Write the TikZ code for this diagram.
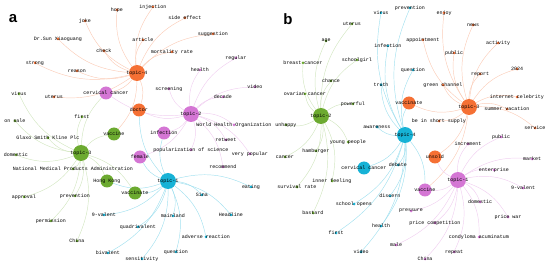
\documentclass[tikz,border=0pt]{standalone}
\usepackage{fontspec}
\setmonofont{Liberation Mono}
\newfontfamily\panelfont{Liberation Sans}
\usetikzlibrary{backgrounds}
\definecolor{cO}{RGB}{245,112,52}
\definecolor{cP}{RGB}{212,118,212}
\definecolor{cG}{RGB}{108,170,48}
\definecolor{cC}{RGB}{22,178,214}
\tikzset{
 kw/.style={circle,fill=#1,inner sep=0pt,minimum size=3pt},
 big/.style={circle,fill=#1,inner sep=0pt,minimum size=13pt},
 topic/.style={circle,fill=#1,inner sep=0pt,minimum size=16pt},
 lbl/.style={font=\ttfamily\fontsize{5}{5}\selectfont,text=black,inner sep=0pt},
 edgeO/.style={line width=0.45pt,draw=cO!35},
 edgeP/.style={line width=0.45pt,draw=cP!35},
 edgeG/.style={line width=0.45pt,draw=cG!30},
 edgeC/.style={line width=0.45pt,draw=cC!40},
 arc/.style={bend left=20},
 panel/.style={font=\panelfont\bfseries\fontsize{15}{15}\selectfont,inner sep=0pt}
}
\begin{document}
\begin{tikzpicture}[x=1pt,y=-1pt]
\useasboundingbox (0,0) rectangle (550,267);
\node[panel] (pa) at (13,19) {a};
\node[panel] (pb) at (288,19) {b};
% ---------------- panel a: big nodes
\node[topic=cO,label={[lbl]center:topic-4}] (a4) at (137,73) {};
\node[big=cO,label={[lbl]center:doctor}] (adoctor) at (139,110) {};
\node[big=cP,label={[lbl]center:cervical cancer}] (acerv) at (106,93) {};
\node[topic=cP,label={[lbl]center:topic-2}] (a2) at (191,114) {};
\node[big=cP,label={[lbl]center:infection}] (ainf) at (164,133) {};
\node[big=cP,label={[lbl]center:female}] (afemale) at (140,157) {};
\node[big=cG,label={[lbl]center:vaccine}] (avaccine) at (114,134) {};
\node[topic=cG,label={[lbl]center:topic-3}] (a3) at (81,153) {};
\node[big=cG,label={[lbl]center:Hong Kong}] (ahk) at (107,181) {};
\node[big=cG,label={[lbl]center:vaccinate}] (avaccinate) at (135,193) {};
\node[topic=cC,label={[lbl]center:topic-1}] (a1) at (168,181) {};
% orange keywords
\node[kw=cO,label={[lbl]center:hope}] (ahope) at (117,10) {};
\node[kw=cO,label={[lbl]center:joke}] (ajoke) at (85,21) {};
\node[kw=cO,label={[lbl]center:Dr.Sun Xiaoguang}] (adrsun) at (58,39) {};
\node[kw=cO,label={[lbl]center:check}] (acheck) at (104,51) {};
\node[kw=cO,label={[lbl]center:strong}] (astrong) at (35,63) {};
\node[kw=cO,label={[lbl]center:reason}] (areason) at (77,71) {};
\node[kw=cO,label={[lbl]center:article}] (aarticle) at (143,40) {};
\node[kw=cO,label={[lbl]center:injection}] (ainjection) at (153,7) {};
\node[kw=cO,label={[lbl]center:side effect}] (aside) at (185,18) {};
\node[kw=cO,label={[lbl]center:suggestion}] (asugg) at (213,34) {};
\node[kw=cO,label={[lbl]center:mortality rate}] (amort) at (172,52) {};
\node[kw=cO,label={[lbl]center:uterus}] (auterus) at (54,97) {};
% pink keywords
\node[kw=cP,label={[lbl]center:regular}] (aregular) at (236,58) {};
\node[kw=cP,label={[lbl]center:health}] (ahealth) at (200,70) {};
\node[kw=cP,label={[lbl]center:screening}] (ascreen) at (169,89) {};
\node[kw=cP,label={[lbl]center:video}] (avideo) at (255,87) {};
\node[kw=cP,label={[lbl]center:decade}] (adecade) at (223,97) {};
\node[kw=cP,label={[lbl]center:World Health Organization}] (awho) at (234,125) {};
\node[kw=cP,label={[lbl]center:retweet}] (aretweet) at (226,140) {};
\node[kw=cP,label={[lbl]center:popularization of science}] (apop) at (191,150) {};
\node[kw=cP,label={[lbl]center:very popular}] (avery) at (250,154) {};
\node[kw=cP,label={[lbl]center:recommend}] (arecom) at (223,167) {};
% green keywords
\node[kw=cG,label={[lbl]center:virus}] (avirus) at (19,94) {};
\node[kw=cG,label={[lbl]center:on sale}] (aonsale) at (15,121) {};
\node[kw=cG,label={[lbl]center:first}] (afirst) at (82,117) {};
\node[kw=cG,label={[lbl]center:Glaxo Smith Kline Plc}] (aglaxo) at (48,138) {};
\node[kw=cG,label={[lbl]center:domestic}] (adomestic) at (16,155) {};
\node[kw=cG,label={[lbl]center:National Medical Products Administration}] (anmpa) at (73,169) {};
\node[kw=cG,label={[lbl]center:approval}] (aapproval) at (24,197) {};
\node[kw=cG,label={[lbl]center:prevention}] (aprev) at (75,196) {};
\node[kw=cG,label={[lbl]center:permission}] (aperm) at (51,221) {};
\node[kw=cG,label={[lbl]center:China}] (achina) at (77,241) {};
% cyan keywords
\node[kw=cC,label={[lbl]center:9-valent}] (anine) at (104,215) {};
\node[kw=cC,label={[lbl]center:quadrivalent}] (aquad) at (138,227) {};
\node[kw=cC,label={[lbl]center:bivalent}] (abiv) at (108,253) {};
\node[kw=cC,label={[lbl]center:sensitivity}] (asens) at (142,259) {};
\node[kw=cC,label={[lbl]center:eating}] (aeating) at (251,187) {};
\node[kw=cC,label={[lbl]center:Sina}] (asina) at (202,195) {};
\node[kw=cC,label={[lbl]center:Headline}] (ahead) at (231,215) {};
\node[kw=cC,label={[lbl]center:mainland}] (amain) at (173,216) {};
\node[kw=cC,label={[lbl]center:adverse reaction}] (aadverse) at (206,237) {};
\node[kw=cC,label={[lbl]center:question}] (aquest) at (176,252) {};
% ---------------- panel b: big nodes
\node[topic=cG,label={[lbl]center:topic-2}] (b2) at (321,116) {};
\node[topic=cC,label={[lbl]center:topic-4}] (b4) at (405,135) {};
\node[big=cC,label={[lbl]center:cervical cancer}] (bcerv) at (364,168) {};
\node[big=cO,label={[lbl]center:vaccinate}] (bvaccinate) at (409,103) {};
\node[topic=cO,label={[lbl]center:topic-3}] (b3) at (469,107) {};
\node[big=cO,label={[lbl]center:unsold}] (bunsold) at (435,157) {};
\node[topic=cP,label={[lbl]center:topic-1}] (b1) at (458,180) {};
\node[big=cP,label={[lbl]center:vaccine}] (bvaccine) at (425,190) {};
% green keywords
\node[kw=cG,label={[lbl]center:uterus}] (buterus) at (352,24) {};
\node[kw=cG,label={[lbl]center:age}] (bage) at (326,41) {};
\node[kw=cG,label={[lbl]center:breast cancer}] (bbreast) at (303,63) {};
\node[kw=cG,label={[lbl]center:schoolgirl}] (bschoolgirl) at (357,60) {};
\node[kw=cG,label={[lbl]center:chance}] (bchance) at (331,81) {};
\node[kw=cG,label={[lbl]center:ovarian cancer}] (bovarian) at (305,94) {};
\node[kw=cG,label={[lbl]center:powerful}] (bpowerful) at (353,104) {};
\node[kw=cG,label={[lbl]center:unhappy}] (bunhappy) at (286,125) {};
\node[kw=cG,label={[lbl]center:young people}] (byoung) at (348,142) {};
\node[kw=cG,label={[lbl]center:hamburger}] (bhamb) at (316,151) {};
\node[kw=cG,label={[lbl]center:cancer}] (bcancer) at (285,157) {};
\node[kw=cG,label={[lbl]center:inner feeling}] (binner) at (332,181) {};
\node[kw=cG,label={[lbl]center:survival rate}] (bsurv) at (297,187) {};
\node[kw=cG,label={[lbl]center:bastard}] (bbastard) at (313,213) {};
% cyan keywords
\node[kw=cC,label={[lbl]center:virus}] (bvirus) at (381,13) {};
\node[kw=cC,label={[lbl]center:prevention}] (bprev) at (410,8) {};
\node[kw=cC,label={[lbl]center:infection}] (binf) at (388,46) {};
\node[kw=cC,label={[lbl]center:question}] (bquest) at (413,70) {};
\node[kw=cC,label={[lbl]center:truth}] (btruth) at (381,85) {};
\node[kw=cC,label={[lbl]center:awareness}] (baware) at (377,127) {};
\node[kw=cC,label={[lbl]center:debate}] (bdebate) at (398,165) {};
\node[kw=cC,label={[lbl]center:discern}] (bdiscern) at (390,196) {};
\node[kw=cC,label={[lbl]center:school opens}] (bschool) at (354,204) {};
\node[kw=cC,label={[lbl]center:first}] (bfirst) at (336,233) {};
\node[kw=cC,label={[lbl]center:health}] (bhealth) at (381,226) {};
\node[kw=cC,label={[lbl]center:video}] (bvideo) at (361,252) {};
% orange keywords
\node[kw=cO,label={[lbl]center:enjoy}] (benjoy) at (444,13) {};
\node[kw=cO,label={[lbl]center:news}] (bnews) at (473,25) {};
\node[kw=cO,label={[lbl]center:appointment}] (bappoint) at (423,40) {};
\node[kw=cO,label={[lbl]center:activity}] (bactivity) at (498,43) {};
\node[kw=cO,label={[lbl]center:public}] (bpublicO) at (454,53) {};
\node[kw=cO,label={[lbl]center:report}] (breport) at (480,74) {};
\node[kw=cO,label={[lbl]center:2024}] (byear) at (517,69) {};
\node[kw=cO,label={[lbl]center:green channel}] (bgreen) at (443,85) {};
\node[kw=cO,label={[lbl]center:be in short supply}] (bshort) at (439,121) {};
\node[kw=cO,label={[lbl]center:internet celebrity}] (binternet) at (517,97) {};
\node[kw=cO,label={[lbl]center:summer vacation}] (bsummer) at (507,109) {};
\node[kw=cO,label={[lbl]center:service}] (bservice) at (535,128) {};
% pink keywords
\node[kw=cP,label={[lbl]center:increment}] (bincr) at (468,144) {};
\node[kw=cP,label={[lbl]center:public}] (bpublicP) at (501,137) {};
\node[kw=cP,label={[lbl]center:market}] (bmarket) at (532,159) {};
\node[kw=cP,label={[lbl]center:enterprise}] (benter) at (494,170) {};
\node[kw=cP,label={[lbl]center:9-valent}] (bnine) at (523,188) {};
\node[kw=cP,label={[lbl]center:domestic}] (bdomestic) at (480,202) {};
\node[kw=cP,label={[lbl]center:price war}] (bpricewar) at (508,217) {};
\node[kw=cP,label={[lbl]center:pressure}] (bpressure) at (411,211) {};
\node[kw=cP,label={[lbl]center:price competition}] (bpricecomp) at (435,223) {};
\node[kw=cP,label={[lbl]center:condyloma acuminatum}] (bcondy) at (479,237) {};
\node[kw=cP,label={[lbl]center:male}] (bmale) at (396,245) {};
\node[kw=cP,label={[lbl]center:repeat}] (brepeat) at (454,252) {};
\node[kw=cP,label={[lbl]center:China}] (bchina) at (425,259) {};
% ---------------- edges
\begin{scope}[on background layer]
\foreach \t in {ahope,ajoke,adrsun,acheck,astrong,areason,aarticle,ainjection,aside,asugg,amort,auterus,acerv,adoctor,avaccine}
  \draw[edgeO] (a4) to[arc] (\t);
\foreach \t in {aregular,ahealth,ascreen,avideo,adecade,awho,aretweet,apop,avery,arecom,ainf,afemale,adoctor,acerv}
  \draw[edgeP] (a2) to[arc] (\t);
\foreach \t in {avirus,aonsale,afirst,aglaxo,adomestic,anmpa,aapproval,aprev,aperm,achina,avaccine,ahk,avaccinate,acerv}
  \draw[edgeG] (a3) to[arc] (\t);
\foreach \t in {aeating,asina,ahead,amain,aadverse,aquest,asens,abiv,aquad,anine,avaccinate,ahk,afemale,ainf,adoctor}
  \draw[edgeC] (a1) to[arc] (\t);
\foreach \t in {buterus,bage,bbreast,bschoolgirl,bchance,bovarian,bpowerful,bunhappy,byoung,bhamb,bcancer,binner,bsurv,bbastard}
  \draw[edgeG] (b2) to[arc] (\t);
\foreach \t in {bvirus,bprev,binf,bquest,btruth,baware,bdebate,bdiscern,bschool,bfirst,bhealth,bvideo,bcerv,bvaccinate,bvaccine}
  \draw[edgeC] (b4) to[arc] (\t);
\foreach \t in {benjoy,bnews,bappoint,bactivity,bpublicO,breport,byear,bgreen,bshort,binternet,bsummer,bservice,bvaccinate,bunsold,bvaccine}
  \draw[edgeO] (b3) to[arc] (\t);
\foreach \t in {bincr,bpublicP,bmarket,benter,bnine,bdomestic,bpricewar,bpressure,bpricecomp,bcondy,bmale,brepeat,bchina,bvaccine,bunsold}
  \draw[edgeP] (b1) to[arc] (\t);
\end{scope}
\end{tikzpicture}
\end{document}
